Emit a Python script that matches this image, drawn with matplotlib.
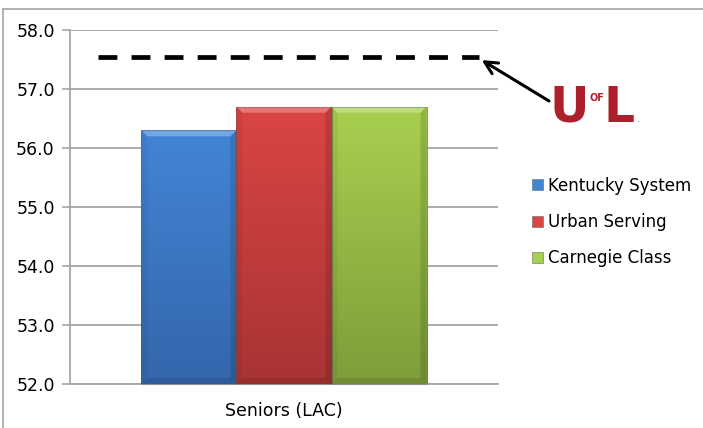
import numpy as np
import matplotlib
matplotlib.use("Agg")
import matplotlib.pyplot as plt
from matplotlib.patches import Polygon, Patch
from matplotlib.lines import Line2D
from matplotlib.transforms import IdentityTransform

# Data
category = "Seniors (LAC)"
groups = ["Kentucky System", "Urban Serving", "Carnegie Class"]
scores = [56.3, 56.7, 56.7]
uofl_score = 57.55
top_colors = ["#4285d6", "#da4543", "#a8d04f"]
bottom_colors = ["#3466ab", "#a83434", "#7d9d3a"]

y_ticks = [52.0, 53.0, 54.0, 55.0, 56.0, 57.0, 58.0]

W, H = 703, 428
fig = plt.figure(figsize=(W / 100, H / 100), dpi=100)
ax = fig.add_axes([70 / W, 1 - 384 / H, 428 / W, 354 / H])

ax.set_xlim(-0.5, 0.5)
ax.set_ylim(52, 58)
bar_w = 0.222
offsets = [-bar_w, 0.0, bar_w]

bars = ax.bar(offsets, [s - 52 for s in scores], width=bar_w, bottom=52,
              color=top_colors, edgecolor="none", zorder=3)

# vertical gradient fill, clipped to each bar
for b, c0, c1 in zip(bars, top_colors, bottom_colors):
    c0 = np.array(matplotlib.colors.to_rgb(c0))
    c1 = np.array(matplotlib.colors.to_rgb(c1))
    t = np.linspace(0, 1, 128)[:, None]
    grad = (c0 * (1 - t) + c1 * t)[:, None, :]
    x0, y0 = b.get_x(), b.get_y()
    im = ax.imshow(grad, extent=[x0, x0 + b.get_width(), y0, y0 + b.get_height()],
                   origin="upper", aspect="auto", zorder=3.5)
    im.set_clip_path(b)

# bevel edges drawn in pixel space
fig.canvas.draw()
d = 6
for b in bars:
    (X0, Y0), (X1, Y1) = ax.transData.transform(
        [(b.get_x(), b.get_y()), (b.get_x() + b.get_width(), b.get_y() + b.get_height())])
    faces = [
        ([(X0, Y1), (X1, Y1), (X1 - d, Y1 - d), (X0 + d, Y1 - d)], "white", 0.28),
        ([(X0, Y0), (X0, Y1), (X0 + d, Y1 - d), (X0 + d, Y0 + d)], "black", 0.05),
        ([(X1, Y0), (X1, Y1), (X1 - d, Y1 - d), (X1 - d, Y0 + d)], "black", 0.12),
        ([(X0, Y0), (X1, Y0), (X1 - d, Y0 + d), (X0 + d, Y0 + d)], "black", 0.10),
    ]
    for pts, col, a in faces:
        ax.add_patch(Polygon(pts, closed=True, facecolor=col, alpha=a, edgecolor="none",
                             transform=IdentityTransform(), zorder=4, clip_on=False))
    ax.add_patch(Polygon([(X0, Y0), (X0, Y1), (X1, Y1), (X1, Y0)], closed=True,
                         facecolor="none", edgecolor="#555555", alpha=0.35, lw=0.8,
                         transform=IdentityTransform(), zorder=4.5, clip_on=False))

# UofL reference line
ax.plot([-0.435, 0.455], [uofl_score, uofl_score], color="black", lw=3.4,
        dashes=(4.0, 3.0), zorder=5, solid_capstyle="butt", dash_capstyle="butt")
ax.annotate("", xy=(0.462, uofl_score - 0.06), xycoords="data",
            xytext=(549, H - 101), textcoords="figure pixels",
            arrowprops=dict(arrowstyle="->,head_length=0.9,head_width=0.45",
                            color="black", lw=2.2, shrinkA=0, shrinkB=0))

# axes styling
ax.set_yticks(y_ticks)
ax.set_yticklabels([f"{v:.1f}" for v in y_ticks], fontsize=12.5)
ax.set_xticks([])
ax.grid(axis="y", color="#a6a6a6", lw=1.3, zorder=0)
ax.tick_params(axis="y", length=6, width=1.2, color="#a6a6a6", pad=5)
for side in ["top", "right"]:
    ax.spines[side].set_visible(False)
for side in ["left", "bottom"]:
    ax.spines[side].set_color("#a6a6a6")
    ax.spines[side].set_linewidth(1.3)
ax.set_xlabel(category, fontsize=12.5, labelpad=13)

# legend
handles = [Patch(facecolor=c, edgecolor="#666666", lw=0.4) for c in top_colors]
fig.legend(handles, groups, loc="upper left", bbox_to_anchor=(525 / W, 1 - 170 / H),
           frameon=False, fontsize=12, handlelength=0.65, handleheight=0.65,
           handletextpad=0.3, labelspacing=1.1, borderaxespad=0)

# UofL wordmark
red = "#ad1f2b"
logo = dict(color=red, fontweight="bold", family="DejaVu Sans", va="baseline")
fig.text(549 / W, 1 - 122 / H, "U", fontsize=35, **logo)
fig.text(589 / W, 1 - 101 / H, "OF", fontsize=7, **logo)
fig.text(603 / W, 1 - 122 / H, "L", fontsize=35, **logo)
fig.text(636 / W, 1 - 122 / H, ".", color=red, fontsize=6, va="baseline")

# outer frame edges
fig.add_artist(Line2D([3 / W, 3 / W], [0, 1 - 9 / H], color="#a6a6a6", lw=1.2))
fig.add_artist(Line2D([3 / W, 1], [1 - 9 / H, 1 - 9 / H], color="#a6a6a6", lw=1.2))

fig.savefig("out.png", dpi=100)
